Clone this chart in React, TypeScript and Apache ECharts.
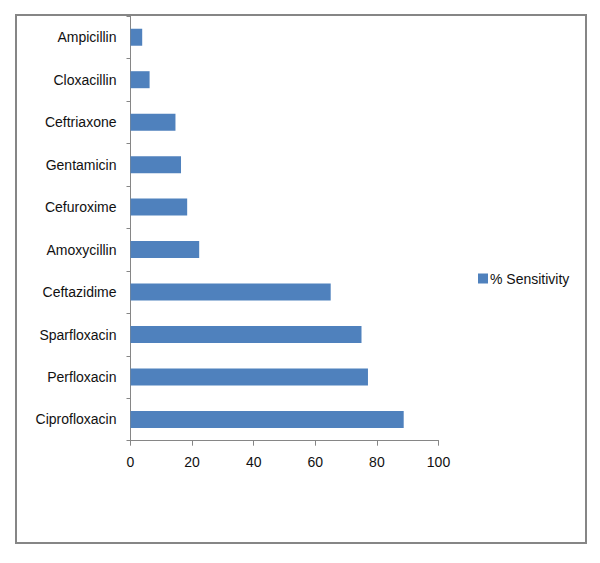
import React, { useEffect, useRef } from "react";
import * as echarts from "echarts";

const categories = [
  "Ampicillin",
  "Cloxacillin",
  "Ceftriaxone",
  "Gentamicin",
  "Cefuroxime",
  "Amoxycillin",
  "Ceftazidime",
  "Sparfloxacin",
  "Perfloxacin",
  "Ciprofloxacin",
];
const sensitivity = [3.8, 6.2, 14.6, 16.4, 18.4, 22.3, 65, 75, 77.1, 88.7];
const seriesName = "% Sensitivity";

export default function App() {
  const ref = useRef<HTMLDivElement>(null);
  useEffect(() => {
    document.body.style.margin = "0";
    const chart = echarts.init(ref.current!, null, { renderer: "svg" });
    const font = "'Liberation Sans', Arial, sans-serif";
    chart.setOption({
      animation: false,
      backgroundColor: "#ffffff",
      textStyle: { fontFamily: font },
      graphic: [
        {
          type: "rect",
          shape: { x: 16, y: 15, width: 570, height: 528 },
          style: { fill: "none", stroke: "#868686", lineWidth: 2 },
          silent: true,
        },
      ],
      grid: { left: 130.5, right: 161.5, top: 16, bottom: 122.3 },
      legend: {
        orient: "vertical",
        left: 478,
        top: 271.5,
        padding: 0,
        itemWidth: 10,
        itemHeight: 10,
        icon: "rect",
        data: [seriesName],
        textStyle: { fontSize: 14, color: "#111", fontFamily: font, padding: [0, 0, 0, -3] },
      },
      xAxis: {
        type: "value",
        min: 0,
        max: 100,
        interval: 20,
        splitLine: { show: false },
        axisLine: { show: true, lineStyle: { color: "#868686", width: 1 } },
        axisTick: { show: true, length: 5, lineStyle: { color: "#868686" } },
        axisLabel: { fontSize: 14, color: "#111", margin: 14, fontFamily: font },
      },
      yAxis: {
        type: "category",
        inverse: true,
        data: categories,
        axisLine: { show: true, lineStyle: { color: "#868686", width: 1 } },
        axisTick: { show: true, length: 4, lineStyle: { color: "#868686" } },
        axisLabel: { fontSize: 14, color: "#111", margin: 14, fontFamily: font },
      },
      series: [
        {
          name: seriesName,
          type: "bar",
          data: sensitivity,
          barWidth: 17,
          itemStyle: { color: "#4F81BD" },
        },
      ],
    });
    return () => chart.dispose();
  }, []);
  return <div ref={ref} style={{ width: 600, height: 563 }} />;
}
